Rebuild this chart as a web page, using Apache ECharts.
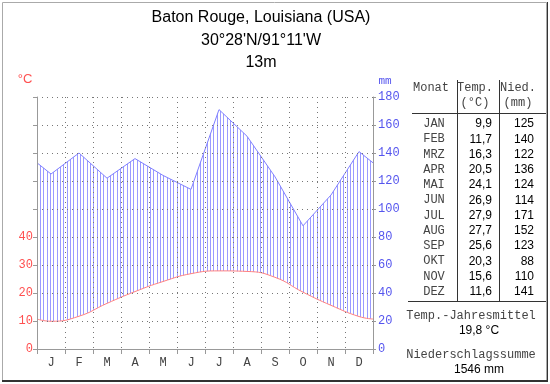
<!DOCTYPE html>
<html><head><meta charset="utf-8">
<script src="https://cdn.jsdelivr.net/npm/echarts/dist/echarts.min.js"></script>
<style>html,body{margin:0;padding:0;background:#fff}#c{width:550px;height:384px}</style>
</head><body><div id="c"></div>
<script>
// ---- data ----
const monthLabels = ['J','F','M','A','M','J','J','A','S','O','N','D'];
const monthNames = ['JAN','FEB','MRZ','APR','MAI','JUN','JUL','AUG','SEP','OKT','NOV','DEZ'];
const temperature = [9.9, 11.7, 16.3, 20.5, 24.1, 26.9, 27.9, 27.7, 25.6, 20.3, 15.6, 11.6];
const precipitation = [125, 140, 122, 136, 124, 114, 171, 152, 123, 88, 110, 141];
const edgeTemperature = 10.7;   // value the curve shows at the left/right plot edge
const edgePrecipitation = 133;  // value the curve shows at the left/right plot edge
const tempLabelMax = 40;
const titleLines = ['Baton Rouge, Louisiana (USA)', "30°28'N/91°11'W", '13m'];
const annualMeanTemp = '19,8 °C';
const annualPrecip = '1546 mm';

// ---- chart ----
const MONO = '"Courier New", "Liberation Mono", monospace';
const SANS = '"Liberation Sans", Arial, sans-serif';
const nMonths = monthLabels.length;

const tempData = [[0, edgeTemperature]].concat(temperature.map((v, i) => [i + 0.5, v]), [[nMonths, edgeTemperature]]);
const precData = [[0, edgePrecipitation]].concat(precipitation.map((v, i) => [i + 0.5, v]), [[nMonths, edgePrecipitation]]);

// vertical hatch pattern
const pat = document.createElement('canvas');
pat.width = 10; pat.height = 4;
const pctx = pat.getContext('2d');
pctx.fillStyle = '#9a9aff';
[0, 3, 7].forEach(x => pctx.fillRect(x, 0, 1, 4));

const fmt = v => v.toFixed(1).replace('.', ',');

const graphics = [];
graphics.push({type: 'rect', shape: {x: 2.5, y: 2.5, width: 544, height: 378}, style: {fill: null, stroke: '#aaa', lineWidth: 1}, z: 0});
graphics.push({type: 'line', shape: {x1: 2, y1: 381, x2: 548, y2: 381}, style: {stroke: '#333', lineWidth: 2}});
graphics.push({type: 'line', shape: {x1: 547.5, y1: 2, x2: 547.5, y2: 382}, style: {stroke: '#333', lineWidth: 1}});
titleLines.forEach((t, i) => graphics.push({type: 'text', x: 261, y: [18, 41, 63][i],
  style: {text: t, font: '16px ' + SANS, fill: '#000', textAlign: 'center', textVerticalAlign: 'middle'}}));
graphics.push({type: 'text', x: 25, y: 79, style: {text: '°C', font: '13px ' + SANS, fill: '#ff5050', textAlign: 'center', textVerticalAlign: 'middle'}});
graphics.push({type: 'text', x: 385, y: 81, style: {text: 'mm', font: '11px ' + MONO, fill: '#5555ee', textAlign: 'center', textVerticalAlign: 'middle'}});

// table
const lineCol = '#333';
graphics.push({type: 'line', shape: {x1: 457.5, y1: 80, x2: 457.5, y2: 301}, style: {stroke: lineCol, lineWidth: 1}});
graphics.push({type: 'line', shape: {x1: 499.5, y1: 80, x2: 499.5, y2: 301}, style: {stroke: lineCol, lineWidth: 1}});
graphics.push({type: 'line', shape: {x1: 412, y1: 113.5, x2: 546, y2: 113.5}, style: {stroke: lineCol, lineWidth: 1}});
graphics.push({type: 'line', shape: {x1: 408, y1: 301.5, x2: 546, y2: 301.5}, style: {stroke: lineCol, lineWidth: 1}});
const monoTxt = (t, x, y, align) => ({type: 'text', x: x, y: y, style: {text: t, font: '12px ' + MONO, fill: '#444', textAlign: align || 'center', textVerticalAlign: 'middle'}});
const sansTxt = (t, x, y, align) => ({type: 'text', x: x, y: y, style: {text: t, font: '12px ' + SANS, fill: '#000', textAlign: align || 'center', textVerticalAlign: 'middle'}});
graphics.push(monoTxt('Monat', 431, 88));
graphics.push(monoTxt('Temp.', 475, 88));
graphics.push(monoTxt('(°C)', 475, 103));
graphics.push(monoTxt('Nied.', 518, 88));
graphics.push(monoTxt('(mm)', 518, 103));
monthNames.forEach((m, i) => {
  const y = 124 + i * 15.25;
  graphics.push(monoTxt(m, 434, y));
  graphics.push(sansTxt(fmt(temperature[i]), 492, y, 'right'));
  graphics.push(sansTxt(String(precipitation[i]), 534, y, 'right'));
});
graphics.push(monoTxt('Temp.-Jahresmittel', 471, 316));
graphics.push(sansTxt(annualMeanTemp, 479, 331));
graphics.push(monoTxt('Niederschlagssumme', 471, 355));
graphics.push(sansTxt(annualPrecip, 479, 370));

const chart = echarts.init(document.getElementById('c'), null, {renderer: 'canvas'});
chart.setOption({
  animation: false,
  backgroundColor: '#fff',
  grid: {left: 37, right: 177, top: 97, bottom: 35},
  xAxis: [
    {type: 'category', data: monthLabels, boundaryGap: true, position: 'bottom', z: 5,
     axisLine: {lineStyle: {color: '#999'}},
     axisTick: {show: true, length: 5, interval: 0, lineStyle: {color: '#999'}},
     axisLabel: {color: '#444', fontFamily: MONO, fontSize: 12, margin: 8, interval: 0},
     splitLine: {show: true, interval: 0, lineStyle: {color: '#777', type: [1, 4]}}},
    {type: 'value', min: 0, max: nMonths, show: false}
  ],
  yAxis: [
    {type: 'value', min: 0, max: 90, interval: 10, position: 'left', z: 5,
     axisLine: {show: true, lineStyle: {color: '#999'}},
     axisTick: {show: true, length: 4, lineStyle: {color: '#999'}},
     axisLabel: {color: '#ff5050', fontFamily: MONO, fontSize: 12, margin: 4,
                 formatter: v => (v <= tempLabelMax ? String(v) : '')},
     splitLine: {show: true, lineStyle: {color: '#777', type: [1, 4]}}},
    {type: 'value', min: 0, max: 180, interval: 20, position: 'right', z: 5,
     axisLine: {show: true, lineStyle: {color: '#999'}},
     axisTick: {show: true, length: 3, lineStyle: {color: '#999'}},
     axisLabel: {color: '#5555ee', fontFamily: MONO, fontSize: 12, margin: 5},
     splitLine: {show: false}}
  ],
  series: [
    {type: 'line', name: 'Niederschlag', xAxisIndex: 1, yAxisIndex: 1, data: precData,
     symbol: 'none', silent: true, z: 2,
     lineStyle: {color: '#8080ff', width: 1},
     areaStyle: {color: {image: pat, repeat: 'repeat'}, opacity: 1}},
    {type: 'line', name: 'Temperatur', xAxisIndex: 1, yAxisIndex: 0, data: tempData,
     symbol: 'none', silent: true, z: 3, smooth: 0.5,
     lineStyle: {color: '#ff8080', width: 1},
     areaStyle: {color: '#ffffff', opacity: 1}}
  ],
  graphic: graphics
});
</script>
</body></html>
